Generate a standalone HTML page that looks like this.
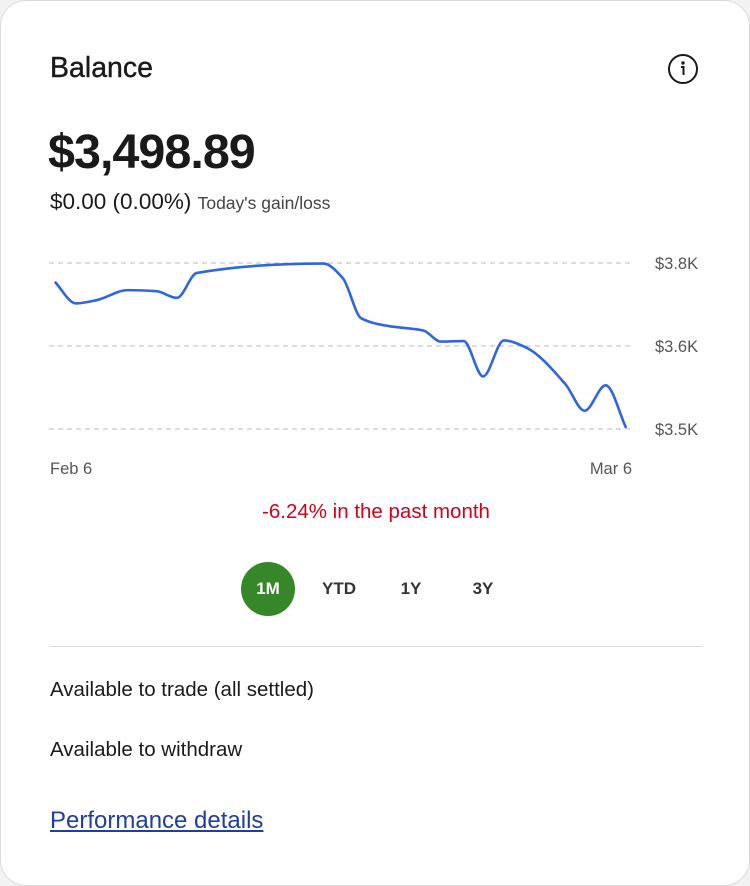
<!DOCTYPE html>
<html><head><meta charset="utf-8"><style>
html,body{margin:0;padding:0;background:#f2f2f2;}
body{width:750px;height:886px;position:relative;overflow:hidden;font-family:"Liberation Sans",sans-serif;color:#1a1a1a;}
.card{position:absolute;left:0;top:0;width:748px;height:884px;border:1px solid #dcdcdc;border-radius:26px;background:#fff;}
.abs{position:absolute;white-space:nowrap;}
</style></head><body>
<div class="card">
<div class="abs" style="left:49px;top:51px;font-size:28.5px;-webkit-text-stroke:0.4px #1a1a1a;">Balance</div>
<svg class="abs" style="left:666px;top:52px;" width="32" height="32"><circle cx="16" cy="16" r="14" fill="none" stroke="#1a1a1a" stroke-width="2"/><circle cx="16" cy="10" r="1.7" fill="#1a1a1a"/><path d="M14 14h2.5v8" fill="none" stroke="#1a1a1a" stroke-width="2"/></svg>
<div class="abs" style="left:47px;top:123px;font-size:48.5px;font-weight:bold;letter-spacing:-1px;">$3,498.89</div>
<div class="abs" style="left:49px;top:188px;font-size:22.5px;">$0.00 (0.00%) <span style="font-size:17.5px;color:#444;">Today's gain/loss</span></div>
<svg id="chart" class="abs" style="left:0;top:230px;" width="750" height="260"></svg>
<div class="abs" style="left:0;width:750px;text-align:center;top:499px;font-size:20.5px;color:#d0021b;">-6.24% in the past month</div>
<div class="abs" style="left:240px;top:561px;width:54px;height:54px;border-radius:50%;background:#368727;color:#fff;font-weight:bold;font-size:17px;line-height:54px;text-align:center;">1M</div>
<div class="abs" style="left:314px;top:578px;width:48px;text-align:center;font-weight:bold;font-size:17px;color:#333;">YTD</div>
<div class="abs" style="left:386px;top:578px;width:48px;text-align:center;font-weight:bold;font-size:17px;color:#333;">1Y</div>
<div class="abs" style="left:458px;top:578px;width:48px;text-align:center;font-weight:bold;font-size:17px;color:#333;">3Y</div>
<div class="abs" style="left:48px;top:645px;width:654px;height:1px;background:#ddd;"></div>
<div class="abs" style="left:49px;top:677px;font-size:20.5px;">Available to trade (all settled)</div>
<div class="abs" style="left:49px;top:737px;font-size:20.5px;">Available to withdraw</div>
<div class="abs" style="left:49px;top:806px;font-size:24px;color:#1f3f9e;text-decoration:underline;">Performance details</div>
</div>
<script>
const days=[0.28,1.29,2.30,3.77,5.15,6.13,7.09,13.16,14.08,14.97,16.29,17.95,18.78,19.88,20.81,21.81,22.83,24.76,25.68,26.69,27.67];
const values=[3766,3727,3733,3751,3749,3737,3782,3799,3773,3700,3686,3678,3658,3659,3595,3660,3648,3581,3533,3579,3502];
const tickValues=[3500,3650,3800];
const tickLabels=["$3.5K","$3.6K","$3.8K"];
const xLabels=["Feb 6","Mar 6"];
const svg=document.getElementById('chart');
const NS='http://www.w3.org/2000/svg';
const oy=230;
function xs(d){return 48+d/28*584;}
function ys(v){return 428-oy-(v-3500)/300*166;}
tickValues.forEach((t,i)=>{
 const l=document.createElementNS(NS,'line');
 l.setAttribute('x1',48);l.setAttribute('x2',632);l.setAttribute('y1',ys(t));l.setAttribute('y2',ys(t));
 l.setAttribute('stroke','#c8c8c8');l.setAttribute('stroke-width','1.3');l.setAttribute('stroke-dasharray','5 4');
 
 
 svg.appendChild(l);
 const tx=document.createElementNS(NS,'text');
 tx.setAttribute('x',654);tx.setAttribute('y',ys(t)+6);tx.setAttribute('font-size','16.5');tx.setAttribute('fill','#555');
 tx.setAttribute('font-family','Liberation Sans, sans-serif');
 tx.textContent=tickLabels[i];
 
 
 svg.appendChild(tx);
});
xLabels.forEach((s,i)=>{
 const tx=document.createElementNS(NS,'text');
 tx.setAttribute('x',i?631:49);tx.setAttribute('y',243);tx.setAttribute('font-size','16.5');tx.setAttribute('fill','#555');
 tx.setAttribute('text-anchor',i?'end':'start');
 tx.setAttribute('font-family','Liberation Sans, sans-serif');
 tx.textContent=s;
 
 
 svg.appendChild(tx);
});
const pts=days.map((d,i)=>[xs(d),ys(values[i])]);
// monotone cubic
const n=pts.length,sl=[],m=[];
for(let i=0;i<n-1;i++)sl.push((pts[i+1][1]-pts[i][1])/(pts[i+1][0]-pts[i][0]));
m[0]=sl[0];m[n-1]=sl[n-2];
for(let i=1;i<n-1;i++){
 if(sl[i-1]*sl[i]<=0)m[i]=0;
 else{const h0=pts[i][0]-pts[i-1][0],h1=pts[i+1][0]-pts[i][0];
 m[i]=3*(h0+h1)/((2*h1+h0)/sl[i-1]+(h1+2*h0)/sl[i]);}
}
let d='M'+pts[0][0]+','+pts[0][1];
for(let i=0;i<n-1;i++){
 const h=(pts[i+1][0]-pts[i][0])/3;
 d+=' C'+(pts[i][0]+h)+','+(pts[i][1]+m[i]*h)+' '+(pts[i+1][0]-h)+','+(pts[i+1][1]-m[i+1]*h)+' '+pts[i+1][0]+','+pts[i+1][1];
}
const path=document.createElementNS(NS,'path');
path.setAttribute('d',d);path.setAttribute('fill','none');path.setAttribute('stroke','#2f66e0');path.setAttribute('stroke-width','2.6');


svg.appendChild(path);
</script>
</body></html>
